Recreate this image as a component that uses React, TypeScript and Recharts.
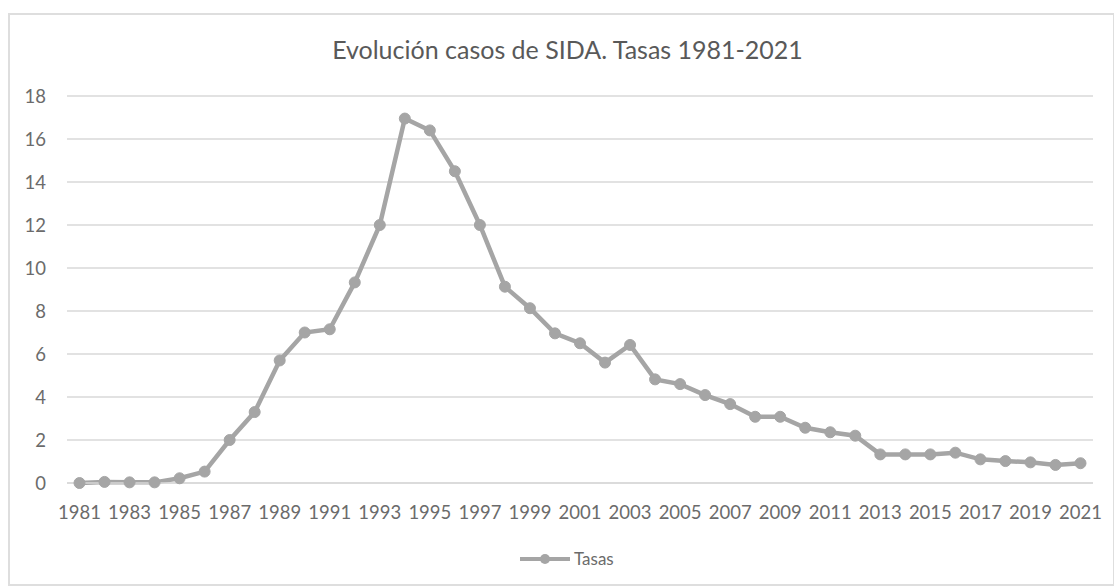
import { LineChart, Line, XAxis, YAxis, CartesianGrid, Legend } from "recharts";

// años 1981-2021
const years = [
  "1981", "1982", "1983", "1984", "1985", "1986", "1987", "1988", "1989", "1990",
  "1991", "1992", "1993", "1994", "1995", "1996", "1997", "1998", "1999", "2000",
  "2001", "2002", "2003", "2004", "2005", "2006", "2007", "2008", "2009", "2010",
  "2011", "2012", "2013", "2014", "2015", "2016", "2017", "2018", "2019", "2020",
  "2021",
];

// tasas
const tasas = [
  0.0, 0.05, 0.03, 0.03, 0.22, 0.53, 2.0, 3.3, 5.7, 7.0,
  7.15, 9.33, 12.0, 16.95, 16.4, 14.5, 12.0, 9.13, 8.13, 6.96,
  6.5, 5.6, 6.42, 4.82, 4.6, 4.09, 3.67, 3.08, 3.08, 2.57,
  2.36, 2.2, 1.33, 1.33, 1.33, 1.41, 1.1, 1.02, 0.96, 0.84,
  0.92,
];

const yTicks = [0, 2, 4, 6, 8, 10, 12, 14, 16, 18];

const data = years.map((year, i) => ({ year, tasas: tasas[i] }));

const GRAY = "#A5A5A5";
const TEXT = "#6b6b6b";
const FONT = "Lato, 'Open Sans', sans-serif";

const renderLegend = () => (
  <div style={{ display: "flex", alignItems: "center", fontFamily: FONT, fontSize: 17, color: TEXT }}>
    <svg width={50} height={12}>
      <line x1={0} y1={6} x2={50} y2={6} stroke={GRAY} strokeWidth={4} />
      <circle cx={25} cy={6} r={5} fill={GRAY} />
    </svg>
    <span style={{ marginLeft: 4 }}>Tasas</span>
  </div>
);

export default function App() {
  return (
    <div style={{ position: "absolute", left: 0, top: 0, width: 1114, height: 588, background: "#fff" }}>
      <div
        style={{
          position: "absolute",
          left: 8,
          top: 13,
          width: 1103,
          height: 569,
          border: "2px solid #dedede",
        }}
      />
      <div
        style={{
          position: "absolute",
          top: 34,
          left: 0,
          width: 1135,
          textAlign: "center",
          fontFamily: FONT,
          fontSize: 25,
          color: "#595959",
        }}
      >
        Evolución casos de SIDA. Tasas 1981-2021
      </div>
      <LineChart
        width={1114}
        height={588}
        data={data}
        margin={{ top: 96, right: 21, bottom: 54, left: 10 }}
      >
        <CartesianGrid vertical={false} stroke="#d9d9d9" strokeWidth={1.5} />
        <XAxis
          dataKey="year"
          interval={1}
          padding={{ left: 12.5, right: 12.5 }}
          tick={{ fill: TEXT, fontSize: 18.5, fontFamily: FONT }}
          tickLine={false}
          tickSize={0}
          tickMargin={23}
          axisLine={{ stroke: "#d9d9d9", strokeWidth: 1.5 }}
          height={30}
        />
        <YAxis
          domain={[0, 18]}
          ticks={yTicks}
          width={57}
          tick={{ fill: TEXT, fontSize: 18.5, fontFamily: FONT }}
          tickLine={false}
          tickSize={0}
          tickMargin={21}
          axisLine={false}
        />
        <Legend
          layout="vertical"
          align="center"
          verticalAlign="bottom"
          content={renderLegend}
          wrapperStyle={{ top: 548, left: 520, width: 120 }}
        />
        <Line
          type="linear"
          dataKey="tasas"
          stroke={GRAY}
          strokeWidth={4.5}
          dot={{ r: 5.5, fill: GRAY, stroke: GRAY, strokeWidth: 1 }}
          isAnimationActive={false}
        />
      </LineChart>
    </div>
  );
}
